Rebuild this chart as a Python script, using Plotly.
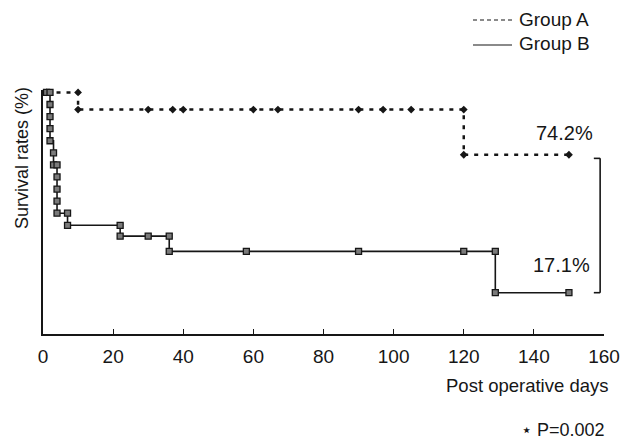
import plotly.graph_objects as go

# ---- data ----
days_A = [1, 10, 10, 30, 37, 40, 60, 67, 90, 97, 105, 120, 120, 150]
surv_A = [100, 100, 92.9, 92.9, 92.9, 92.9, 92.9, 92.9, 92.9, 92.9, 92.9, 92.9, 74.2, 74.2]

days_B = [1, 2, 2, 2, 2, 2, 3, 3, 4, 4, 4, 4, 4, 7, 7, 22, 22, 30, 36, 36, 58, 90, 120, 129, 129, 150]
surv_B = [100, 100, 95, 90, 85, 80, 75, 70, 70, 65, 60, 55, 50, 50, 45, 45, 40.5, 40.5, 40.5, 34.2, 34.2, 34.2, 34.2, 34.2, 17.1, 17.1]

x_ticks = [0, 20, 40, 60, 80, 100, 120, 140, 160]
final_labels = ["74.2%", "17.1%"]
final_values = [74.2, 17.1]
p_text = "\u22c6 P=0.002"

FONT = "Liberation Sans, Arial, Helvetica, sans-serif"
INK = "#161616"

# plot-area geometry (pixels) used to place paper-referenced text
L, R, T, B = 43, 604, 90, 334
def px(xpix):
    return (xpix - L) / (R - L)
def py(ypix):
    return (B - ypix) / (B - T)

fig = go.Figure()

fig.add_trace(go.Scatter(
    x=days_A, y=surv_A, mode="lines+markers", line_shape="hv",
    line=dict(color=INK, width=2.5, dash="4px,6px"),
    marker=dict(symbol="diamond", size=6, color=INK),
    name="Group A", showlegend=False, cliponaxis=False))

fig.add_trace(go.Scatter(
    x=days_B, y=surv_B, mode="lines+markers", line_shape="hv",
    line=dict(color=INK, width=1.6),
    marker=dict(symbol="square", size=6, color="#7a7a7a", line=dict(color=INK, width=1.3)),
    name="Group B", showlegend=False, cliponaxis=False))

# bracket comparing final values
bx = 158.9
btop = final_values[0] - 1.5
fig.add_shape(type="line", xref="x", yref="y", x0=bx, x1=bx, y0=btop, y1=final_values[1],
              line=dict(color=INK, width=1.6))
fig.add_shape(type="line", xref="x", yref="y", x0=bx - 1.8, x1=bx, y0=btop, y1=btop,
              line=dict(color=INK, width=1.6))
fig.add_shape(type="line", xref="x", yref="y", x0=bx - 1.8, x1=bx, y0=final_values[1], y1=final_values[1],
              line=dict(color=INK, width=1.6))

def txt(size):
    return dict(size=size, family=FONT, color=INK)

annos = [
    dict(x=148.6, y=83.1, xref="x", yref="y", text=final_labels[0], showarrow=False, font=txt(20)),
    dict(x=148.0, y=28.5, xref="x", yref="y", text=final_labels[1], showarrow=False, font=txt(20)),
    dict(x=163.6, y=46.3, xref="x", yref="y", text="\u22c6", showarrow=False, font=txt(12)),
    dict(x=px(22), y=py(158), xref="paper", yref="paper", text="Survival rates (%)", textangle=-90,
         xanchor="center", yanchor="middle", showarrow=False, font=txt(18)),
    dict(x=px(610), y=py(385), xref="paper", yref="paper", text="Post operative days", xanchor="right",
         yanchor="middle", showarrow=False, font=txt(18.5)),
    dict(x=px(607), y=py(430), xref="paper", yref="paper", text=p_text, xanchor="right",
         yanchor="middle", showarrow=False, font=txt(18)),
    dict(x=px(517), y=py(19), xref="paper", yref="paper", text="Group A",
         xanchor="left", yanchor="middle", showarrow=False, font=txt(19)),
    dict(x=px(517), y=py(44), xref="paper", yref="paper", text="Group B",
         xanchor="left", yanchor="middle", showarrow=False, font=txt(19)),
]
fig.update_layout(annotations=annos)

# legend samples
fig.add_shape(type="line", xref="paper", yref="paper",
              x0=px(473), x1=px(512), y0=py(20), y1=py(20),
              line=dict(color=INK, width=1.2, dash="4px,3px"))
fig.add_shape(type="line", xref="paper", yref="paper",
              x0=px(473), x1=px(512), y0=py(45), y1=py(45),
              line=dict(color=INK, width=1.2))

fig.update_layout(
    width=622, height=444,
    margin=dict(l=L, r=622 - R, t=T, b=444 - B, autoexpand=False),
    paper_bgcolor="white", plot_bgcolor="white",
    showlegend=False,
    font=dict(family=FONT, color=INK),
    xaxis=dict(range=[0, 160], tickvals=x_ticks, ticktext=[str(v) for v in x_ticks],
               showgrid=False, zeroline=False, showline=True, linecolor=INK, linewidth=1.6,
               ticks="inside", ticklen=5, tickwidth=1.4, tickcolor=INK, automargin=False,
               tickfont=txt(19), ticklabelstandoff=4),
    yaxis=dict(range=[0, 101], showgrid=False, zeroline=False, showline=True, linecolor=INK,
               linewidth=2, showticklabels=False, ticks="", automargin=False),
)

fig.write_html("out.html")
